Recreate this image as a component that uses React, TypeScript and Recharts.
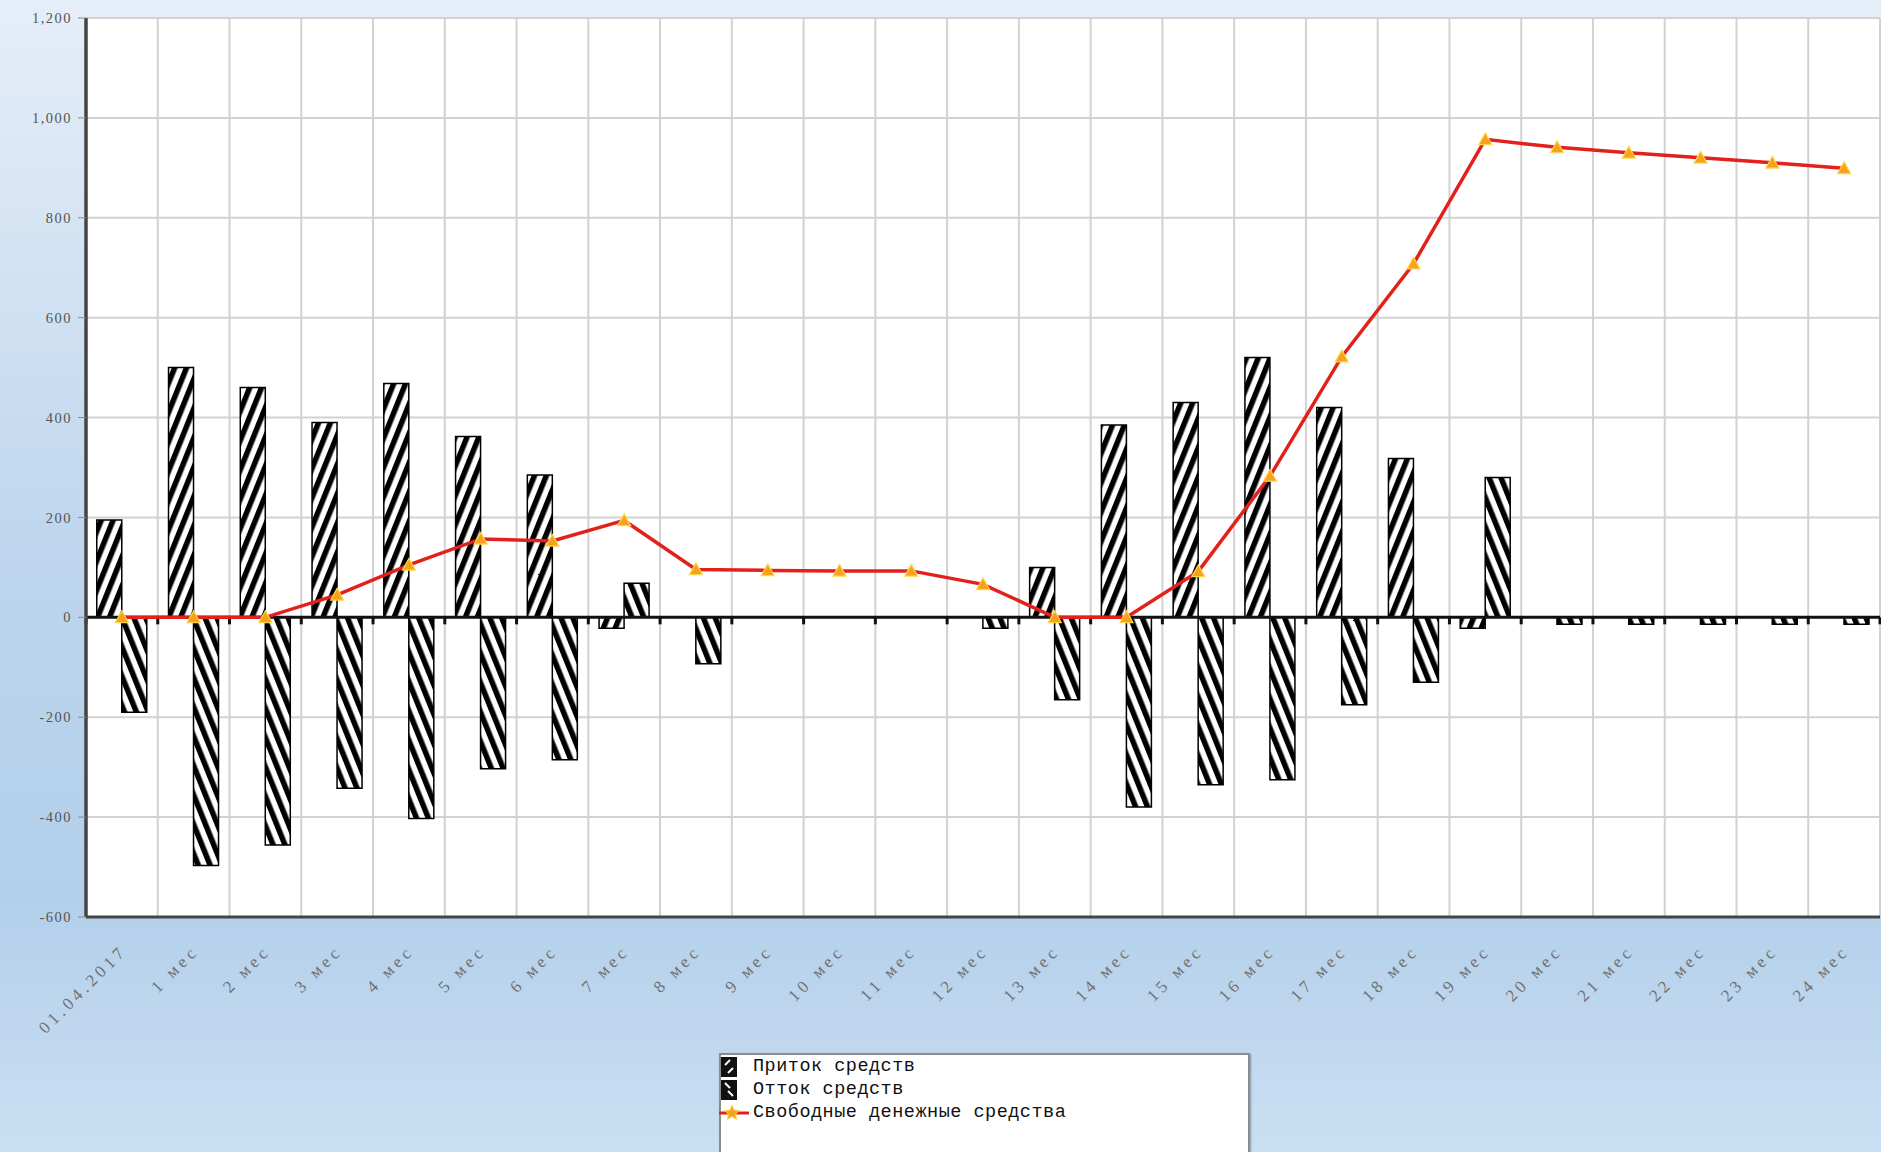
import React from 'react';
import { ComposedChart, Bar, Line, XAxis, YAxis, CartesianGrid, ReferenceLine } from 'recharts';

const categories = [
  '01.04.2017', '1 мес', '2 мес', '3 мес', '4 мес', '5 мес', '6 мес', '7 мес', '8 мес',
  '9 мес', '10 мес', '11 мес', '12 мес', '13 мес', '14 мес', '15 мес', '16 мес', '17 мес',
  '18 мес', '19 мес', '20 мес', '21 мес', '22 мес', '23 мес', '24 мес',
];
const inflow = [195, 500, 460, 390, 468, 362, 285, -22, 0, 0, 0, 0, 0, 100, 385, 430, 520, 420, 318, -22, 0, 0, 0, 0, 0];
const outflow = [-190, -497, -456, -342, -403, -303, -285, 68, -93, 0, 0, 0, -22, -165, -380, -335, -325, -175, -130, 280, -14, -14, -14, -14, -14];
const freeCash = [0, 0, 0, 45, 105, 157, 153, 194, 96, 94, 93, 93, 66, 0, 0, 92, 283, 522, 708, 957, 941, 930, 920, 910, 899];
const yTicks = [-600, -400, -200, 0, 200, 400, 600, 800, 1000, 1200];
const seriesNames = ['Приток средств', 'Отток средств', 'Свободные денежные средства'];

const data = categories.map((c, i) => ({ name: c, inflow: inflow[i], outflow: outflow[i], cash: freeCash[i] }));

const XTick = (props: any) => {
  const { x, y, payload } = props;
  const tx = x + 6;
  const ty = y + 27;
  return (
    <text
      x={tx}
      y={ty}
      transform={`rotate(-45 ${tx} ${ty})`}
      textAnchor="end"
      fontFamily="'Liberation Serif', serif"
      fontSize={17}
      letterSpacing={4}
      fill="#707070"
    >
      {payload.value}
    </text>
  );
};

const ZeroLine = (props: any) => {
  const { x1, y1, x2, y2 } = props;
  if (x1 == null || y1 == null) return null;
  const n = categories.length;
  const step = (x2 - x1) / n;
  return (
    <g>
      <line x1={x1} y1={y1} x2={x2} y2={y2} stroke="#111" strokeWidth={3} />
      {Array.from({ length: n + 1 }, (_, i) => (
        <line key={i} x1={x1 + i * step} x2={x1 + i * step} y1={y1} y2={y1 + 7} stroke="#111" strokeWidth={3} />
      ))}
    </g>
  );
};

const Tri = (props: any) => {
  const { cx, cy } = props;
  if (cx == null || cy == null) return null;
  const s = 6.5;
  return (
    <polygon
      points={`${cx},${cy - s} ${cx + s},${cy + s * 0.8} ${cx - s},${cy + s * 0.8}`}
      fill="#f6a21e"
      stroke="#ffd54a"
      strokeWidth={1.2}
    />
  );
};

const LegendIcon = ({ kind }: { kind: number }) => {
  if (kind === 2) {
    const cx = 13;
    const cy = 11;
    const pts: string[] = [];
    for (let k = 0; k < 10; k++) {
      const r = k % 2 === 0 ? 8 : 3.5;
      const a = -Math.PI / 2 + (k * Math.PI) / 5;
      pts.push(`${cx + r * Math.cos(a)},${cy + r * Math.sin(a)}`);
    }
    return (
      <svg width={30} height={22} style={{ display: 'block' }}>
        <line x1={0} y1={11} x2={30} y2={11} stroke="#e3211c" strokeWidth={3} />
        <polygon points={pts.join(' ')} fill="#f6a21e" stroke="#ffd54a" strokeWidth={1} />
      </svg>
    );
  }
  return (
    <svg width={16} height={20} style={{ display: 'block', marginTop: 1 }}>
      <rect x={0} y={0} width={16} height={20} fill="#111" />
      {kind === 0 ? (
        <g stroke="#fff" strokeWidth={2}>
          <line x1={4} y1={8} x2={9} y2={3} />
          <line x1={7} y1={16} x2={12} y2={11} />
        </g>
      ) : (
        <g stroke="#fff" strokeWidth={2}>
          <line x1={4} y1={3} x2={9} y2={8} />
          <line x1={7} y1={11} x2={12} y2={16} />
        </g>
      )}
    </svg>
  );
};

export default function App() {
  return (
    <div
      style={{
        position: 'absolute',
        left: 0,
        top: 0,
        width: 1881,
        height: 1152,
        overflow: 'hidden',
        background: 'linear-gradient(180deg, #e5eef8 0%, #cfe0f2 28%, #bcd5ed 50%, #b3cfea 78%, #cadff3 100%)',
      }}
    >
      <svg width={0} height={0} style={{ position: 'absolute' }}>
        <defs>
          <pattern id="patIn" patternUnits="userSpaceOnUse" width={11} height={11} patternTransform="rotate(22)">
            <rect width={11} height={11} fill="#fff" />
            <rect width={5.5} height={11} fill="#000" />
          </pattern>
          <pattern id="patOut" patternUnits="userSpaceOnUse" width={11} height={11} patternTransform="rotate(-22)">
            <rect width={11} height={11} fill="#fff" />
            <rect width={5.5} height={11} fill="#000" />
          </pattern>
        </defs>
      </svg>
      <ComposedChart
        width={1881}
        height={1152}
        data={data}
        margin={{ top: 18, right: 1, left: 0, bottom: 0 }}
        barCategoryGap="15%"
        barGap={0}
      >
        <CartesianGrid
          fill="#ffffff"
          fillOpacity={1}
          stroke="#d2d2d2"
          strokeWidth={2}
          verticalCoordinatesGenerator={({ offset }: any) =>
            Array.from({ length: categories.length + 1 }, (_, i) => offset.left + (i * offset.width) / categories.length)
          }
        />
        <XAxis
          dataKey="name"
          interval={0}
          height={235}
          tickSize={6}
          tickLine={false}
          axisLine={{ stroke: '#444', strokeWidth: 3 }}
          tick={<XTick />}
        />
        <XAxis
          xAxisId="top"
          orientation="top"
          dataKey="name"
          height={0}
          tick={false}
          tickLine={false}
          axisLine={{ stroke: '#444', strokeWidth: 3.5 }}
        />
        <YAxis
          width={86}
          domain={[-600, 1200]}
          ticks={yTicks}
          interval={0}
          tickSize={8}
          tickMargin={6}
          tickLine={{ stroke: '#8a8a8a' }}
          axisLine={{ stroke: '#444', strokeWidth: 3.5 }}
          tick={{ fontFamily: "'Liberation Serif', serif", fontSize: 14.5, fill: '#555', letterSpacing: 1.5 }}
          tickFormatter={(v: number) => v.toLocaleString('en-US')}
        />
        <YAxis
          yAxisId="right"
          orientation="right"
          width={0}
          tick={false}
          tickLine={false}
          axisLine={{ stroke: '#444', strokeWidth: 3 }}
        />
        <Bar dataKey="inflow" name={seriesNames[0]} fill="url(#patIn)" stroke="#000" strokeWidth={1.5} isAnimationActive={false} />
        <Bar dataKey="outflow" name={seriesNames[1]} fill="url(#patOut)" stroke="#000" strokeWidth={1.5} isAnimationActive={false} />
        <ReferenceLine y={0} shape={<ZeroLine />} />
        <Line
          type="linear"
          dataKey="cash"
          name={seriesNames[2]}
          stroke="#e3211c"
          strokeWidth={3.5}
          dot={<Tri />}
          activeDot={false}
          isAnimationActive={false}
        />
      </ComposedChart>
      <div
        style={{
          position: 'absolute',
          left: 719,
          top: 1053,
          width: 527,
          height: 120,
          background: '#fff',
          border: '2px solid #8c8c8c',
          boxShadow: '1px 1px 2px rgba(0,0,0,0.3)',
          fontFamily: "'Liberation Mono', monospace",
          fontSize: 18.5,
          letterSpacing: 0.5,
          color: '#111',
        }}
      >
        {seriesNames.map((n, i) => (
          <div key={n} style={{ position: 'relative', height: 23, lineHeight: '23px' }}>
            <div style={{ position: 'absolute', left: i === 2 ? -2 : 0, top: 1 }}>
              <LegendIcon kind={i} />
            </div>
            <span style={{ position: 'absolute', left: 32, top: 0, whiteSpace: 'nowrap' }}>{n}</span>
          </div>
        ))}
      </div>
    </div>
  );
}
